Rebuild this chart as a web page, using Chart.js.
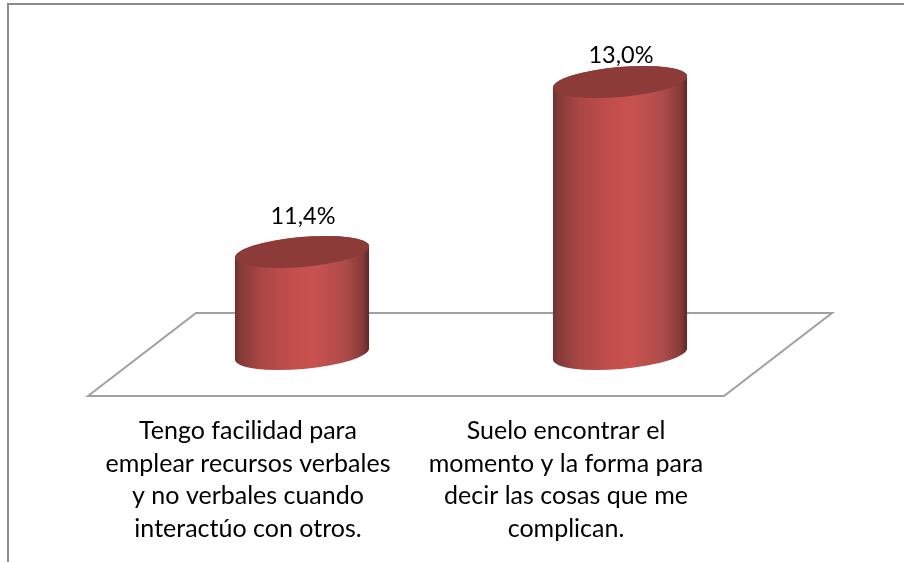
<!DOCTYPE html>
<html>
<head>
<meta charset="utf-8">
<style>html,body{margin:0;padding:0;background:#fff}canvas{display:block}</style>
<script src="https://cdn.jsdelivr.net/npm/chart.js@4"></script>
</head>
<body>
<canvas id="c" width="904" height="562"></canvas>
<script>
const categories = [
  ["Tengo facilidad para", "emplear recursos verbales", "y no verbales cuando", "interactúo con otros."],
  ["Suelo encontrar el", "momento y la forma para", "decir las cosas que me", "complican."]
];
const values = [11.4, 13.0];
const valueLabels = ["11,4%", "13,0%"];
const labelLift = [36, 27];
const axisMin = 10.44;
const axisMax = 13.0;
const FONT = "Lato, Carlito, 'Open Sans', sans-serif";

const cylinder = {
  id: 'cylinder',
  beforeDraw(chart) {
    const c = chart.ctx;
    c.save();
    c.fillStyle = '#fff';
    c.fillRect(0, 0, chart.width, chart.height);
    // outer frame
    c.strokeStyle = '#8c8c8c';
    c.lineWidth = 2;
    c.beginPath();
    c.moveTo(8, 562); c.lineTo(8, 4); c.lineTo(904, 4);
    c.stroke();
    // floor
    c.strokeStyle = '#a0a0a0';
    c.lineWidth = 2;
    c.beginPath();
    c.moveTo(88, 396); c.lineTo(196, 313); c.lineTo(832, 313); c.lineTo(724, 396);
    c.closePath();
    c.stroke();
    c.restore();
  },
  afterDatasetsDraw(chart) {
    const c = chart.ctx;
    const rot = -5 * Math.PI / 180;
    chart.getDatasetMeta(0).data.forEach((bar, i) => {
      const rx = bar.width / 2 + 0.3, ry = 15;
      const x = bar.x, top = bar.y, base = bar.base;
      const dx = rx * Math.cos(rot), dy = rx * Math.sin(rot);
      const g = c.createLinearGradient(x - dx, 0, x + dx, 0);
      g.addColorStop(0, '#6e3130');
      g.addColorStop(0.04, '#833a38');
      g.addColorStop(0.2, '#ab4745');
      g.addColorStop(0.45, '#c44f4d');
      g.addColorStop(0.6, '#c75250');
      g.addColorStop(0.82, '#ae4b49');
      g.addColorStop(0.95, '#873b39');
      g.addColorStop(1, '#5e2827');
      c.save();
      c.beginPath();
      c.moveTo(x - dx, top - dy);
      c.lineTo(x - dx, base - dy);
      c.ellipse(x, base, rx, ry, rot, Math.PI, 0, true);
      c.lineTo(x + dx, top + dy);
      c.ellipse(x, top, rx, ry, rot, 0, Math.PI, true);
      c.closePath();
      c.fillStyle = g;
      c.fill();
      c.beginPath();
      c.ellipse(x, top, rx, ry, rot, 0, Math.PI * 2);
      c.fillStyle = '#8d3b39';
      c.fill();
      c.fillStyle = '#000';
      c.font = '23.5px ' + FONT;
      c.textAlign = 'center';
      c.textBaseline = 'middle';
      c.fillText(valueLabels[i], x + 1, top - labelLift[i]);
      c.restore();
    });
  }
};

new Chart(document.getElementById('c'), {
  type: 'bar',
  data: {
    labels: categories,
    datasets: [{
      data: values,
      base: axisMin,
      backgroundColor: 'rgba(0,0,0,0)',
      borderWidth: 0,
      categoryPercentage: 1,
      barPercentage: 134 / 318
    }]
  },
  options: {
    responsive: false,
    animation: false,
    layout: { padding: { left: 143, right: 125, top: 82, bottom: 0 } },
    plugins: { legend: { display: false }, tooltip: { enabled: false }, title: { display: false } },
    scales: {
      x: {
        grid: { display: false },
        border: { display: false },
        afterFit(s) { s.height = 208; },
        ticks: {
          color: '#000',
          font: { family: FONT, size: 25, lineHeight: 1.3 },
          padding: 53,
          labelOffset: -54,
          maxRotation: 0,
          minRotation: 0,
          autoSkip: false
        }
      },
      y: {
        display: false,
        min: axisMin,
        max: axisMax
      }
    }
  },
  plugins: [cylinder]
});
</script>
</body>
</html>
